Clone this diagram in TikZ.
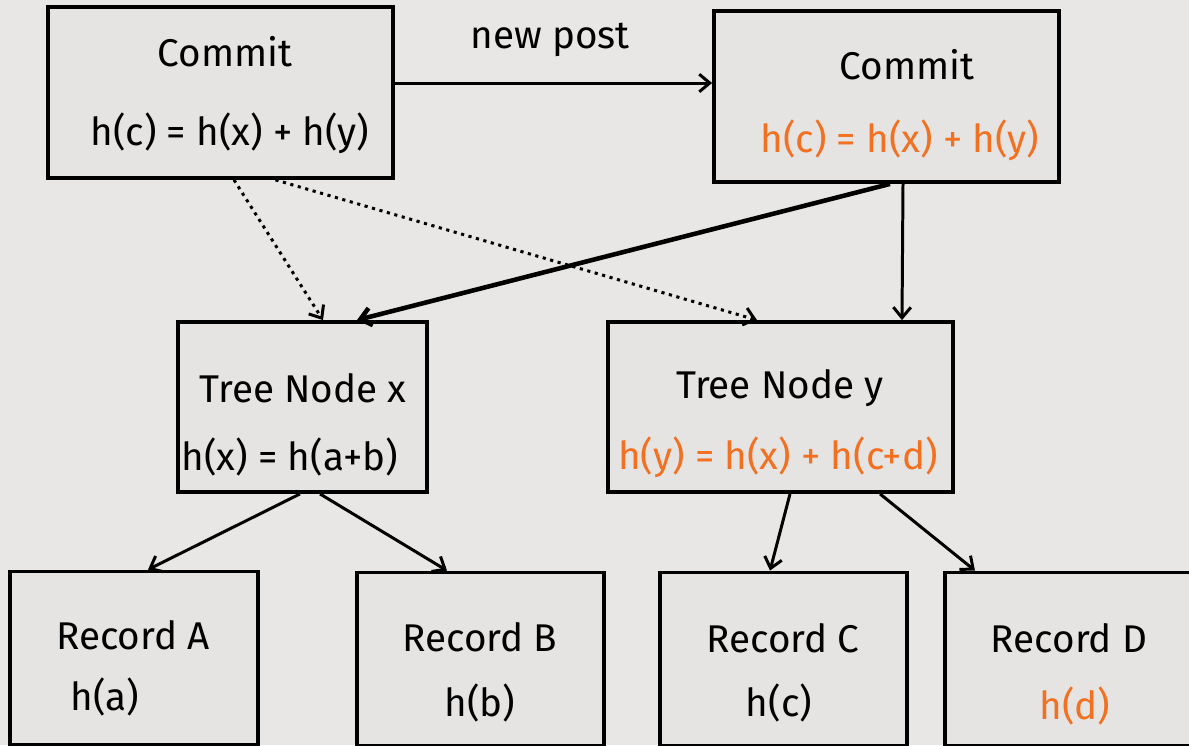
\documentclass[tikz,border=0pt]{standalone}
\usepackage{fontspec}
\setmainfont{Fira Sans}
\usetikzlibrary{arrows.meta, positioning, calc}

\definecolor{paper}{RGB}{232,231,229}
\definecolor{cardfill}{RGB}{229,228,226}
\definecolor{hashorange}{RGB}{242,112,32}

\tikzset{
  card/.style={draw=black, line width=2.2pt, fill=cardfill, inner sep=0pt},
  link/.style={-{Straight Barb[length=6pt,width=10pt]}, line width=1.7pt},
  weak/.style={link, dash pattern=on 1.8pt off 2.6pt, line width=1.7pt},
  label/.style={font=\fontsize{22}{26}\selectfont},
}

\begin{document}
\begin{tikzpicture}[x=0.02cm,y=-0.02cm]
  % Background
  \fill[paper] (0,0) rectangle (1189,745);
  \useasboundingbox (0,0) rectangle (1189,745);

  % Commits
  \node[card, minimum width=6.9cm, minimum height=3.42cm] (commitA) at (220.5,92.5) {};
  \node[card, minimum width=6.9cm, minimum height=3.42cm] (commitB) at (886.5,96.5) {};
  \node[label] (commitAname) at (225,52) {Commit};
  \node[label] (commitAhash) at (230,133) {h(c) = h(x) + h(y)};
  \node[label] (commitBname) at (907,65) {Commit};
  \node[label, text=hashorange] (commitBhash) at (900,140) {h(c) = h(x) + h(y)};

  % Tree nodes
  \node[card, minimum width=4.98cm, minimum height=3.4cm] (treeX) at (302.5,407) {};
  \node[card, minimum width=6.9cm, minimum height=3.4cm] (treeY) at (780.5,407) {};
  \node[label] (treeXname) at (303,388) {Tree Node x};
  \node[label] (treeXhash) at (290,457) {h(x) = h(a+b)};
  \node[label] (treeYname) at (780,388) {Tree Node y};
  \node[label, text=hashorange] (treeYhash) at (778,457) {h(y) = h(x) + h(c+d)};

  % Records
  \node[card, minimum width=4.96cm, minimum height=3.46cm] (recA) at (134,658) {};
  \node[card, minimum width=4.94cm, minimum height=3.46cm] (recB) at (480.5,659) {};
  \node[card, minimum width=4.94cm, minimum height=3.46cm] (recC) at (783.5,659) {};
  \node[card, minimum width=4.94cm, minimum height=3.46cm] (recD) at (1068.5,659) {};
  \node[label] (recAname) at (133,635) {Record A};
  \node[label] (recAhash) at (105,697) {h(a)};
  \node[label] (recBname) at (480,637) {Record B};
  \node[label] (recBhash) at (480,703) {h(b)};
  \node[label] (recCname) at (783,638) {Record C};
  \node[label] (recChash) at (779,703) {h(c)};
  \node[label] (recDname) at (1069,638) {Record D};
  \node[label, text=hashorange] (recDhash) at (1075,706) {h(d)};

  % New post
  \coordinate (postStart) at ($(commitA.east)+(0,-9.5)$);
  \draw[link] (postStart) -- (postStart -| commitB.west);
  \node[label] (postLabel) at (550,40) {new post};

  % Old links
  \draw[weak] ($(commitA.south)+(13.5,0)$) -- ($(treeX.north)+(20.5,0)$);
  \draw[weak] ($(commitA.south)+(55,0)$) -- ($(treeY.north)+(-23.5,0)$);

  % New links
  \draw[link, line width=2.6pt] ($(commitB.south)+(3.5,0)$) -- ($(treeX.north)+(54.5,0)$);
  \draw[link] ($(commitB.south)+(16.5,0)$) -- ($(treeY.north)+(121.5,0)$);

  % Records
  \draw[link] ($(treeX.south)+(-2.5,0)$) -- ($(recA.north)+(14,0)$);
  \draw[link] ($(treeX.south)+(17.5,0)$) -- ($(recB.north)+(-33.5,0)$);
  \draw[link] ($(treeY.south)+(9.5,0)$) -- ($(recC.north)+(-13.5,0)$);
  \draw[link] ($(treeY.south)+(99.5,0)$) -- ($(recD.north)+(-93.5,0)$);
\end{tikzpicture}
\end{document}
